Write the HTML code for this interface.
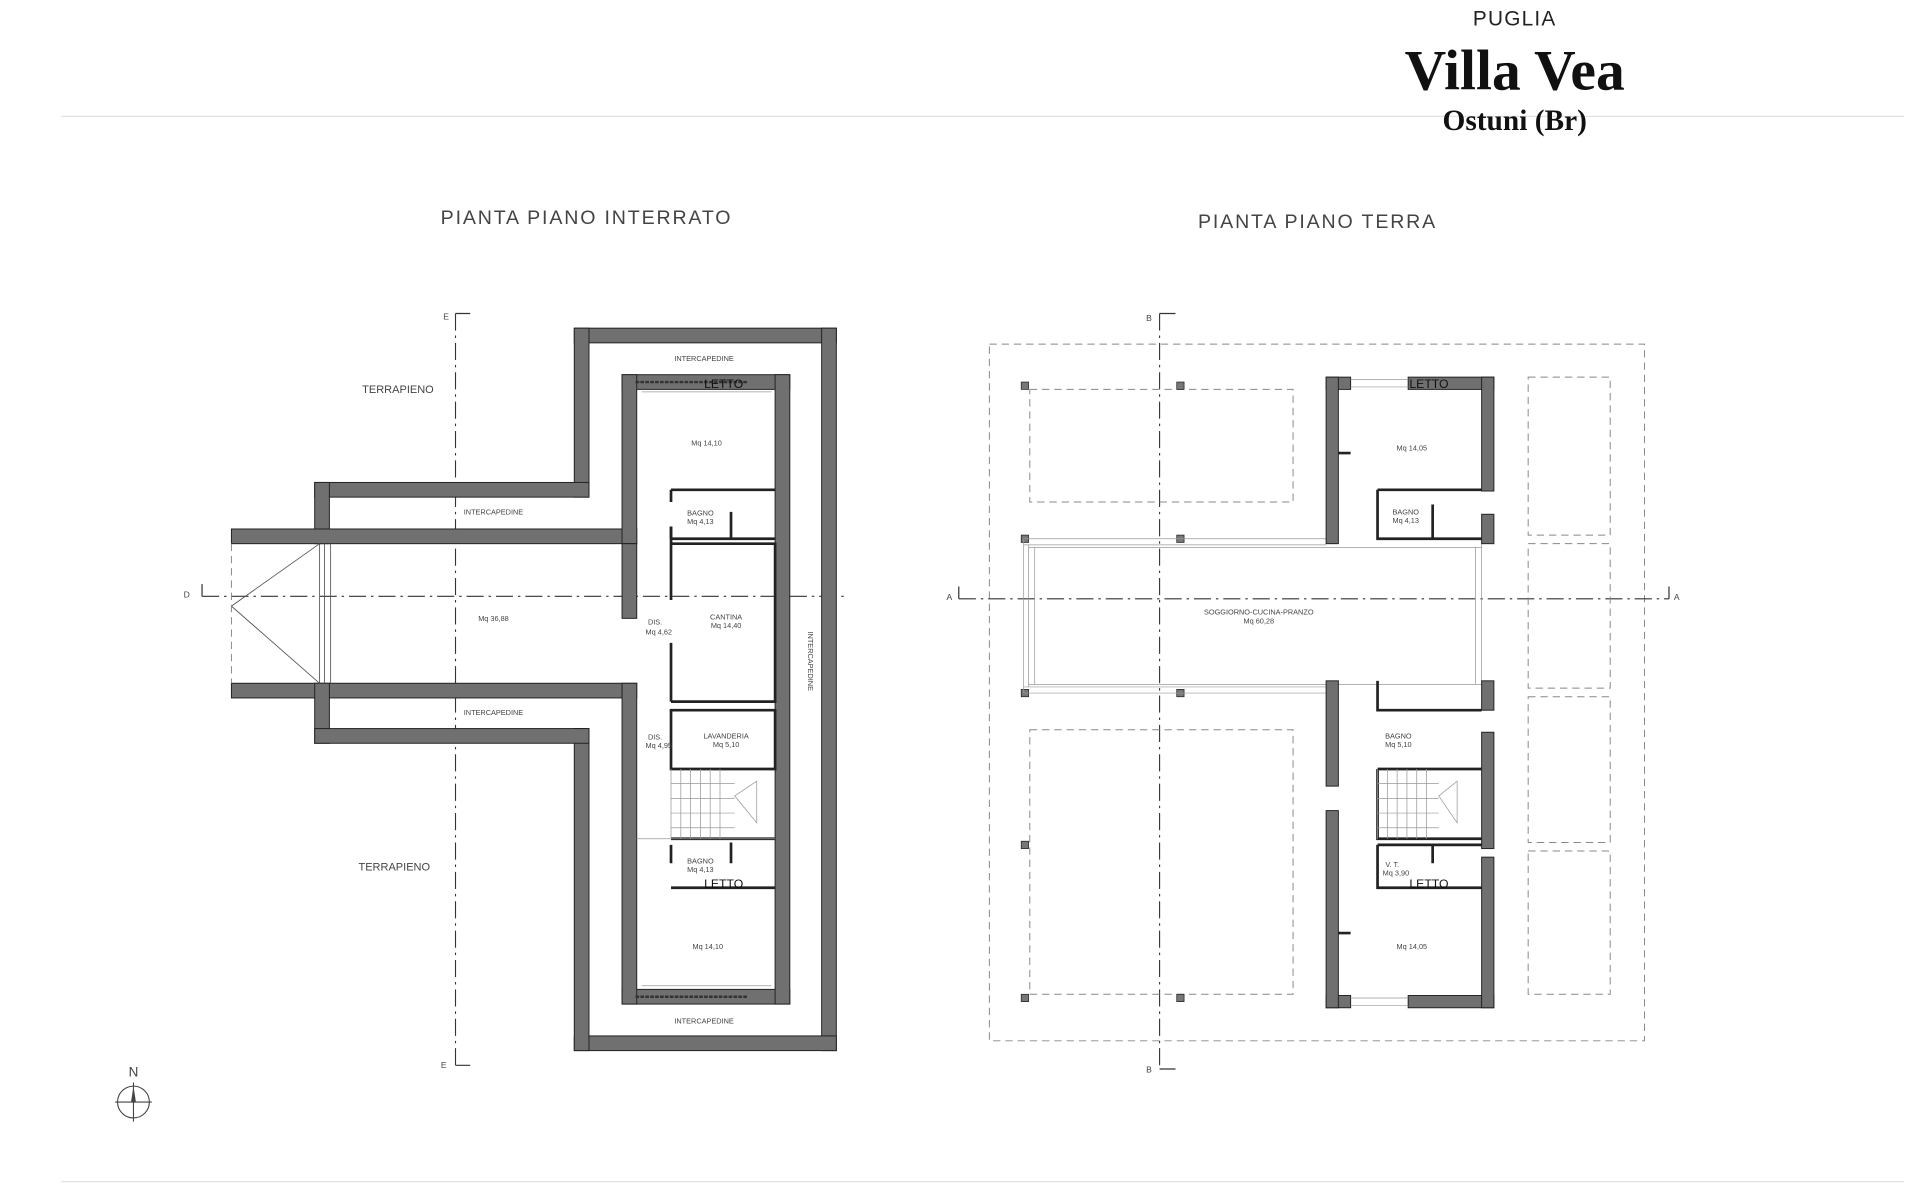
<!DOCTYPE html>
<html><head><meta charset="utf-8"><style>
html,body{margin:0;padding:0;background:#fff;width:1920px;height:1200px;overflow:hidden}
svg{display:block}
.t{font-family:"Liberation Sans",sans-serif;fill:#444}
.w{fill:#707070;stroke:#222;stroke-width:0.8}
.p{stroke:#222;stroke-width:2.2;fill:none}
.d{stroke:#888;stroke-width:0.8;fill:none;stroke-dasharray:6 4}
.ax{stroke:#333;stroke-width:0.9;fill:none;stroke-dasharray:14 4 2 4}
.th{stroke:#999;stroke-width:0.6;fill:none}
</style></head><body>
<svg width="1920" height="1200" viewBox="0 0 1568 980" xmlns="http://www.w3.org/2000/svg">
<!-- header -->
<text x="1237" y="21" text-anchor="middle" font-family="Liberation Sans,sans-serif" font-size="17" fill="#222" letter-spacing="1">PUGLIA</text>
<text x="1237" y="73" text-anchor="middle" font-family="Liberation Serif,serif" font-weight="bold" font-size="47" fill="#111">Villa Vea</text>
<line x1="50" y1="95" x2="1555" y2="95" stroke="#e2e2e2" stroke-width="1"/>
<text x="1237" y="106" text-anchor="middle" font-family="Liberation Serif,serif" font-weight="bold" font-size="24" fill="#111">Ostuni (Br)</text>
<line x1="50" y1="965" x2="1555" y2="965" stroke="#e2e2e2" stroke-width="1"/>

<text class="t" x="479" y="183" text-anchor="middle" font-size="16" letter-spacing="1.5">PIANTA  PIANO  INTERRATO</text>
<text class="t" x="1076" y="186" text-anchor="middle" font-size="16" letter-spacing="1.5">PIANTA  PIANO  TERRA</text>

<!-- LEFT PLAN -->
<line class="ax" x1="372" y1="256" x2="372" y2="870"/>
<path d="M372 256 H384 M372 870 H384" stroke="#333" stroke-width="1"/>
<text class="t" x="362" y="261" font-size="7" fill="#222">E</text>
<text class="t" x="360" y="872" font-size="7" fill="#222">E</text>
<line class="ax" x1="165" y1="487" x2="692" y2="487"/>
<path d="M165 487 V477" stroke="#333" stroke-width="1"/>
<text class="t" x="150" y="488" font-size="7" fill="#222">D</text>

<rect class="w" x="469" y="268" width="214" height="12"/>
<rect class="w" x="671" y="268" width="12" height="590"/>
<rect class="w" x="469" y="846" width="214" height="12"/>
<rect class="w" x="469" y="268" width="12" height="138"/>
<rect class="w" x="469" y="595" width="12" height="263"/>
<rect class="w" x="257" y="394" width="224" height="12"/>
<rect class="w" x="257" y="394" width="12" height="50"/>
<rect class="w" x="189" y="432" width="331" height="12"/>
<rect class="w" x="189" y="558" width="331" height="12"/>
<rect class="w" x="257" y="558" width="12" height="49"/>
<rect class="w" x="257" y="595" width="224" height="12"/>
<rect class="w" x="508" y="306" width="137" height="12"/>
<rect class="w" x="508" y="808" width="137" height="12"/>
<rect class="w" x="633" y="306" width="12" height="514"/>
<rect class="w" x="508" y="306" width="12" height="138"/>
<rect class="w" x="508" y="444" width="12" height="61"/>
<rect class="w" x="508" y="558" width="12" height="262"/>
<path d="M189 495 L261 444 M189 495 L261 558 M261 444 V558 M265 444 V558 M270 444 V558" stroke="#555" stroke-width="0.7" fill="none"/>
<path d="M189 444 V558" class="d"/>
<!-- inner rooms -->
<path class="p" d="M548 400 H633 M548 400 V410 M548 440 H633 M597 418 V440 M548 430 V440"/>
<path class="p" d="M548 444 H633 V573 H548 M548 430 V490 M548 525 V573"/>
<path class="p" d="M548 580 H633 V628 H548 Z"/>
<path class="p" d="M548 685 H633 M548 725 H633 M548 690 V705 M597 688 V705"/>
<path class="th" d="M548 628 V685 M556 628V685 M564 628V685 M572 628V685 M580 628V685 M588 628V685 M548 640H600 M548 652H600 M548 664H600 M548 676H600 M600 650 L618 638 V672 Z M524 320 H630 M524 805 H630 M520 685 H633"/>
<path d="M519 312 H610 M519 814 H610" stroke="#333" stroke-width="2" stroke-dasharray="3 1"/>
<g class="t" font-size="6" text-anchor="middle">
<text x="575" y="295">INTERCAPEDINE</text>
<text x="403" y="420">INTERCAPEDINE</text>
<text x="403" y="584">INTERCAPEDINE</text>
<text x="575" y="836">INTERCAPEDINE</text>
<text x="0" y="0" transform="translate(660,540) rotate(90)">INTERCAPEDINE</text>
<text x="577" y="364">Mq  14,10</text>
<text x="572" y="421">BAGNO</text><text x="572" y="428">Mq  4,13</text>
<text x="403" y="507">Mq  36,88</text>
<text x="593" y="506">CANTINA</text><text x="593" y="513">Mq  14,40</text>
<text x="535" y="510">DIS.</text><text x="538" y="518">Mq  4,62</text>
<text x="535" y="604">DIS.</text><text x="538" y="611">Mq  4,95</text>
<text x="593" y="603">LAVANDERIA</text><text x="593" y="610">Mq  5,10</text>
<text x="572" y="705">BAGNO</text><text x="572" y="712">Mq  4,13</text>
<text x="578" y="775">Mq  14,10</text>
</g>
<text class="t" x="325" y="321" font-size="9" text-anchor="middle">TERRAPIENO</text>
<text class="t" x="322" y="711" font-size="9" text-anchor="middle">TERRAPIENO</text>
<text x="591" y="317" font-family="Liberation Sans,sans-serif" font-size="10" text-anchor="middle" fill="#111">LETTO</text>
<text x="591" y="725" font-family="Liberation Sans,sans-serif" font-size="10" text-anchor="middle" fill="#111">LETTO</text>

<!-- north -->
<text class="t" x="109" y="879" font-size="11" text-anchor="middle">N</text>
<circle cx="109" cy="900" r="13" fill="none" stroke="#444" stroke-width="0.9"/>
<path d="M109 884 V916 M94 900 H124" stroke="#444" stroke-width="0.9"/>
<path d="M109 887 L111 900 H107 Z" fill="#444"/>

<!-- RIGHT PLAN -->
<rect class="d" x="808" y="281" width="535" height="569"/>
<line class="ax" x1="947" y1="256" x2="947" y2="873"/>
<path d="M947 256 H960 M947 873 H960" stroke="#333" stroke-width="1"/>
<text class="t" x="936" y="262" font-size="7" fill="#222">B</text>
<text class="t" x="936" y="876" font-size="7" fill="#222">B</text>
<line class="ax" x1="783" y1="489" x2="1363" y2="489"/>
<path d="M783 489 V479 M1363 489 V479" stroke="#333" stroke-width="1"/>
<text class="t" x="773" y="490" font-size="7" fill="#222">A</text>
<text class="t" x="1367" y="490" font-size="7" fill="#222">A</text>
<rect class="d" x="841" y="318" width="215" height="92"/>
<rect class="d" x="841" y="596" width="215" height="216"/>
<rect class="d" x="1248" y="308" width="67" height="129"/>
<rect class="d" x="1248" y="444" width="67" height="118"/>
<rect class="d" x="1248" y="569" width="67" height="119"/>
<rect class="d" x="1248" y="695" width="67" height="117"/>
<g fill="#777" stroke="#222" stroke-width="0.6">
<rect x="834" y="312" width="6" height="6"/><rect x="961" y="312" width="6" height="6"/>
<rect x="834" y="437" width="6" height="6"/><rect x="961" y="437" width="6" height="6"/>
<rect x="834" y="563" width="6" height="6"/><rect x="961" y="563" width="6" height="6"/>
<rect x="834" y="687" width="6" height="6"/>
<rect x="834" y="812" width="6" height="6"/><rect x="961" y="812" width="6" height="6"/>
</g>
<path class="th" d="M836 440 H1083 M836 445 H1083 M840 447 H1210 M836 566 H1083 M836 561 H1083 M840 559 H1210 M836 440 V566 M840 445 V561 M845 447 V559 M1205 447 V559 M1210 444 V556"/>
<rect class="w" x="1083" y="308" width="20" height="10"/>
<rect class="w" x="1150" y="308" width="70" height="10"/>
<rect class="w" x="1083" y="813" width="20" height="10"/>
<rect class="w" x="1150" y="813" width="70" height="10"/>
<path class="th" d="M1103 310 H1150 M1103 316 H1150 M1103 815 H1150 M1103 821 H1150"/>
<rect class="w" x="1083" y="308" width="10" height="136"/>
<rect class="w" x="1083" y="556" width="10" height="86"/>
<rect class="w" x="1083" y="662" width="10" height="161"/>
<rect class="w" x="1210" y="308" width="10" height="93"/>
<rect class="w" x="1210" y="420" width="10" height="24"/>
<rect class="w" x="1210" y="556" width="10" height="24"/>
<rect class="w" x="1210" y="598" width="10" height="95"/>
<rect class="w" x="1210" y="700" width="10" height="123"/>
<path class="p" d="M1125 400 H1210 M1125 400 V440 H1210 M1170 412 V440 M1093 370 H1103 M1093 762 H1103"/>
<path class="p" d="M1125 556 V580 H1210 M1125 628 H1210 M1125 628 V685 H1210 M1125 690 V725 H1210 M1125 690 H1210 M1170 690 V705"/>
<path class="th" d="M1125 628 V685 M1133 628V685 M1141 628V685 M1149 628V685 M1157 628V685 M1165 628V685 M1125 640H1175 M1125 652H1175 M1125 664H1175 M1125 676H1175 M1175 650 L1190 638 V672 Z"/>
<g class="t" font-size="6" text-anchor="middle">
<text x="1153" y="368">Mq  14,05</text>
<text x="1148" y="420">BAGNO</text><text x="1148" y="427">Mq  4,13</text>
<text x="1028" y="502">SOGGIORNO-CUCINA-PRANZO</text><text x="1028" y="509">Mq  60,28</text>
<text x="1142" y="603">BAGNO</text><text x="1142" y="610">Mq  5,10</text>
<text x="1137" y="708">V.  T.</text><text x="1140" y="715">Mq  3,90</text>
<text x="1153" y="775">Mq  14,05</text>
</g>
<text x="1167" y="317" font-family="Liberation Sans,sans-serif" font-size="10" text-anchor="middle" fill="#111">LETTO</text>
<text x="1167" y="725" font-family="Liberation Sans,sans-serif" font-size="10" text-anchor="middle" fill="#111">LETTO</text>
</svg>
</body></html>
